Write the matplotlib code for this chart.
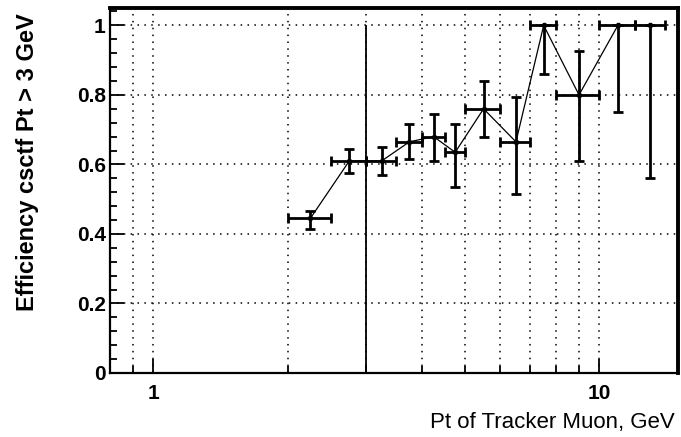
import matplotlib
matplotlib.use("Agg")
import matplotlib.pyplot as plt
from matplotlib.ticker import FixedLocator, FixedFormatter, NullFormatter, MultipleLocator
import numpy as np

# Data (bin centres in GeV, efficiencies and asymmetric errors)
pt = [2.25, 2.75, 3.25, 3.75, 4.25, 4.75, 5.5, 6.5, 7.5, 9.0, 11.0, 13.0]
pt_err = [0.25, 0.25, 0.25, 0.25, 0.25, 0.25, 0.5, 0.5, 0.5, 1.0, 1.0, 1.0]
eff = [0.445, 0.61, 0.61, 0.665, 0.68, 0.635, 0.76, 0.665, 1.0, 0.80, 1.0, 1.0]
eff_err_lo = [0.03, 0.035, 0.04, 0.05, 0.07, 0.10, 0.08, 0.15, 0.14, 0.19, 0.25, 0.44]
eff_err_hi = [0.02, 0.035, 0.04, 0.05, 0.065, 0.08, 0.08, 0.13, 0.0, 0.125, 0.0, 0.0]
threshold = 3.0

x_major = [1, 10]
x_major_labels = ["1", "10"]
x_minor = [0.9, 2, 3, 4, 5, 6, 7, 8, 9]
y_major = [0, 0.2, 0.4, 0.6, 0.8, 1.0]
y_major_labels = ["0", "0.2", "0.4", "0.6", "0.8", "1"]

plt.rcParams['font.family'] = ['Liberation Sans', 'DejaVu Sans']

fig = plt.figure(figsize=(6.81, 4.37), dpi=100)
ax = fig.add_axes([110/681, 1-373/437, (678-110)/681, (373-8)/437])

ax.set_xscale('log')
ax.set_xlim(0.8, 15)
ax.set_ylim(0, 1.05)

ax.xaxis.set_major_locator(FixedLocator(x_major))
ax.xaxis.set_major_formatter(FixedFormatter(x_major_labels))
ax.xaxis.set_minor_locator(FixedLocator(x_minor))
ax.xaxis.set_minor_formatter(NullFormatter())
ax.yaxis.set_major_locator(FixedLocator(y_major))
ax.yaxis.set_major_formatter(FixedFormatter(y_major_labels))
ax.yaxis.set_minor_locator(MultipleLocator(0.04))

ax.grid(True, which='major', axis='both', color='black', linestyle=(0, (1, 3.5)), linewidth=1.1)
ax.grid(True, which='minor', axis='x', color='black', linestyle=(0, (1, 3.5)), linewidth=1.1)

# threshold line
ax.vlines(threshold, 0, 1.0, color='black', linewidth=1.3, zorder=3)

# data
ax.errorbar(pt, eff, xerr=pt_err, yerr=[eff_err_lo, eff_err_hi],
            fmt='-o', color='black', markersize=3, linewidth=0.9,
            elinewidth=2.0, capsize=3.5, capthick=2.0, zorder=4)

ax.tick_params(axis='both', which='both', direction='in', top=False, right=False)
ax.tick_params(axis='x', which='major', length=10, width=1.3, pad=8, labelsize=15)
ax.tick_params(axis='x', which='minor', length=5, width=1.3)
ax.tick_params(axis='y', which='major', length=10, width=1.3, pad=3, labelsize=15)
ax.tick_params(axis='y', which='minor', length=5, width=1.3)
for lab in ax.get_xticklabels() + ax.get_yticklabels():
    lab.set_fontweight('bold')

ax.spines['left'].set_linewidth(1.6)
ax.spines['bottom'].set_linewidth(1.6)
ax.spines['top'].set_linewidth(2.8)
ax.spines['right'].set_linewidth(2.8)

fig.text(28/681, 1-13/437, "Efficiency csctf Pt > 3 GeV", rotation=90,
         ha='center', va='top', fontsize=17, fontweight='bold')
fig.text(675/681, 1-428/437, "Pt of Tracker Muon, GeV", ha='right', va='baseline',
         fontsize=16)

fig.savefig("out.png", dpi=100)
